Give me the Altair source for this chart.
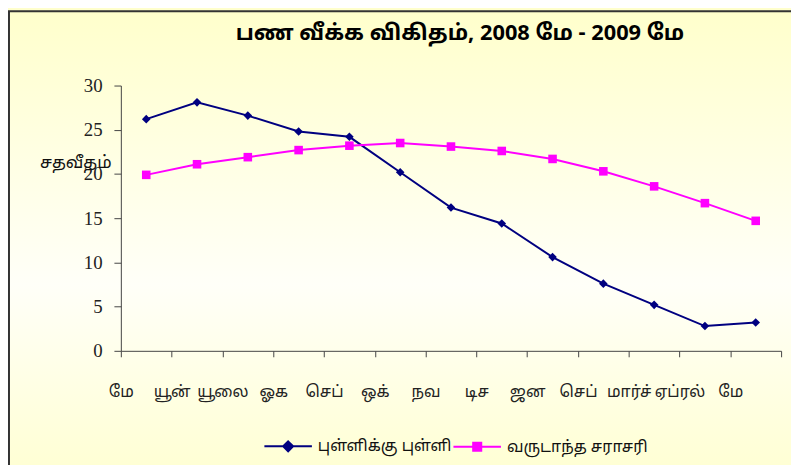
import json
import altair as alt
import pandas as pd

months = ["மே", "யூன்", "யூலை", "ஓக", "செப்", "ஒக்", "நவ", "டிச", "ஜன", "செப்", "மார்ச்", "ஏப்ரல்", "மே"]
series_names = ["புள்ளிக்கு புள்ளி", "வருடாந்த சராசரி"]
point_to_point = [26.2, 28.1, 26.6, 24.8, 24.2, 20.2, 16.2, 14.4, 10.6, 7.6, 5.2, 2.8, 3.2]
annual_average = [19.9, 21.1, 21.9, 22.7, 23.2, 23.5, 23.1, 22.6, 21.7, 20.3, 18.6, 16.7, 14.7]
colors = ["#000080", "#FF00FF"]

rows = []
for i, m in enumerate(months):
    rows.append({"idx": i, "month": m, "series": series_names[0], "value": point_to_point[i]})
    rows.append({"idx": i, "month": m, "series": series_names[1], "value": annual_average[i]})
df = pd.DataFrame(rows)

TAMIL = "Latha, 'Noto Sans Tamil', 'Noto Sans', sans-serif"
W, H = 667, 268
PAD = {"left": 114, "top": 76, "right": 10, "bottom": 113}

labels_js = json.dumps(months, ensure_ascii=False)

x_enc = alt.X(
    "xpos:Q",
    scale=alt.Scale(domain=[0, len(months)], nice=False, zero=False),
    axis=alt.Axis(
        values=list(range(len(months) + 1)),
        labelExpr=f"datum.value < {len(months)} ? {labels_js}[datum.value] : ''",
        title=None, grid=False, tickSize=6, labelPadding=27, labelBaseline="top",
        labelFont=TAMIL, labelFontSize=16, labelColor="#222", domainColor="#444",
        tickColor="#444", labelFlush=False, labelOverlap=False, zindex=1,
    ),
)
y_enc = alt.Y(
    "value:Q",
    scale=alt.Scale(domain=[0, 30], nice=False),
    axis=alt.Axis(
        values=[0, 5, 10, 15, 20, 25, 30], grid=False, tickSize=7, labelPadding=12,
        labelFont="Liberation Serif", labelFontSize=19, labelColor="#222",
        domainColor="#444", tickColor="#444", zindex=1,
        title="சதவீதம்", titleAngle=0, titleX=-46, titleY=78, titleAlign="center",
        titleBaseline="middle", titleFont=TAMIL, titleFontSize=17, titleFontWeight="normal",
        titleColor="#111",
    ),
)

p_line = "M-1,0L1,0"
p_diamond = p_line + "M0,-0.21L0.21,0L0,0.21L-0.21,0Z"
p_square = p_line + "M-0.17,-0.17L0.17,-0.17L0.17,0.17L-0.17,0.17Z"

color_scale = alt.Scale(domain=series_names, range=colors)

base = alt.Chart(df).transform_calculate(xpos="datum.idx + 0.5")

bg = alt.Chart(pd.DataFrame({"k": [0]})).mark_rect(
    color=alt.Gradient(
        gradient="linear", x1=0, x2=0, y1=0, y2=1,
        stops=[alt.GradientStop(offset=0, color="#FFFFCC"),
               alt.GradientStop(offset=0.55, color="#FFFFF8"),
               alt.GradientStop(offset=1, color="#FFFFCC")],
    ),
    stroke="#333", strokeWidth=2,
).encode(
    x=alt.value(-PAD["left"] + 1), x2=alt.value(W + 40),
    y=alt.value(-PAD["top"] + 1), y2=alt.value(H + 160),
)

lines = base.mark_line(strokeWidth=2).encode(
    x=x_enc, y=y_enc, color=alt.Color("series:N", scale=color_scale, legend=None), order="idx:Q"
)
points = base.mark_point(filled=True, opacity=1, size=75).encode(
    x=x_enc, y=y_enc,
    color=alt.Color("series:N", scale=color_scale, legend=None),
    shape=alt.Shape("series:N", scale=alt.Scale(domain=series_names, range=["diamond", "square"]), legend=None),
)

leg = alt.Legend(
    orient="none", legendX=144, legendY=339, direction="horizontal", title=None,
    symbolSize=2304, symbolStrokeWidth=2, labelFont=TAMIL, labelFontSize=16,
    labelColor="#111", labelOffset=5, columnPadding=-16, padding=0, gridAlign="each",
)
legend_layer = base.transform_filter("false").mark_point(filled=True, opacity=1).encode(
    color=alt.Color("series:N", scale=color_scale, legend=leg),
    stroke=alt.Stroke("series:N", scale=color_scale, legend=leg),
    shape=alt.Shape("series:N", scale=alt.Scale(domain=series_names, range=[p_diamond, p_square]), legend=leg),
)

chart = alt.layer(bg, lines, points, legend_layer).resolve_scale(
    color="independent", shape="independent", stroke="independent"
).resolve_legend(color="independent", shape="independent", stroke="independent").properties(
    width=W, height=H, padding=PAD,
    autosize=alt.AutoSizeParams(type="none"),
    title=alt.Title(
        "பண வீக்க விகிதம், 2008 மே - 2009 மே", font=TAMIL, fontSize=22, fontWeight="bold",
        color="#000", anchor="middle", dx=9, offset=-57, baseline="bottom",
    ),
).configure(background="#FFFFCC").configure_view(stroke=None)

chart.save("out.html", embed_options={"renderer": "svg", "actions": False})
